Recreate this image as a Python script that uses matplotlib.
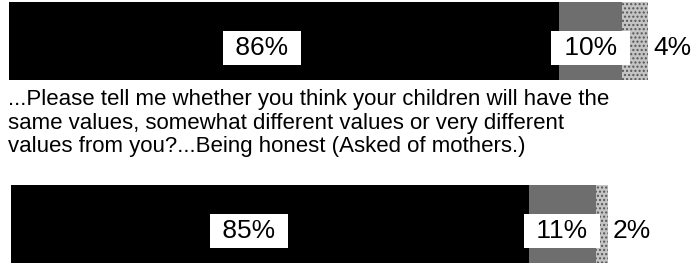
import matplotlib.pyplot as plt

plt.rcParams["font.family"] = ["Liberation Sans", "DejaVu Sans"]

# Data
segments = ["Same", "Somewhat different", "Very different"]
top_values = [86, 10, 4]
bottom_values = [85, 11, 2]
question = ("...Please tell me whether you think your children will have the\n"
            "same values, somewhat different values or very different\n"
            "values from you?...Being honest (Asked of mothers.)")

colors = ["#000000", "#6e6e6e", "#c4c4c4"]
hatches = [None, None, "...."]

fig = plt.figure(figsize=(6.97, 2.66), dpi=100)
ax_top = fig.add_axes([9 / 697, 1 - 80 / 266, 639 / 697, 78 / 266])
ax_bot = fig.add_axes([11 / 697, 1 - 263 / 266, 609 / 697, 78 / 266])


def draw_bar(ax, values):
    left = 0
    for i, v in enumerate(values):
        ax.barh(0, v, left=left, height=1.0, color=colors[i],
                hatch=hatches[i], edgecolor="#555555" if hatches[i] else colors[i],
                linewidth=0)
        box = dict(boxstyle="square,pad=0.2", fc="white", ec="none")
        if i == 0:
            ax.text(left + v * 0.46, -0.09, f" {v}% ", ha="center", va="center",
                    fontsize=19, color="black", bbox=box)
        elif i == 1:
            ax.text(left + v / 2, -0.09, f" {v}% ", ha="center", va="center",
                    fontsize=19, color="black", bbox=box)
        else:
            ax.text(left + v + 0.8, -0.09, f"{v}%", ha="left", va="center",
                    fontsize=19, color="black")
        left += v
    ax.set_xlim(0, 100)
    ax.set_ylim(-0.5, 0.5)
    ax.axis("off")


draw_bar(ax_top, top_values)
draw_bar(ax_bot, bottom_values)

fig.text(8 / 697, 1 - 89 / 266, question, ha="left", va="top",
         fontsize=16, linespacing=1.17)

fig.savefig("out.png", dpi=100)
